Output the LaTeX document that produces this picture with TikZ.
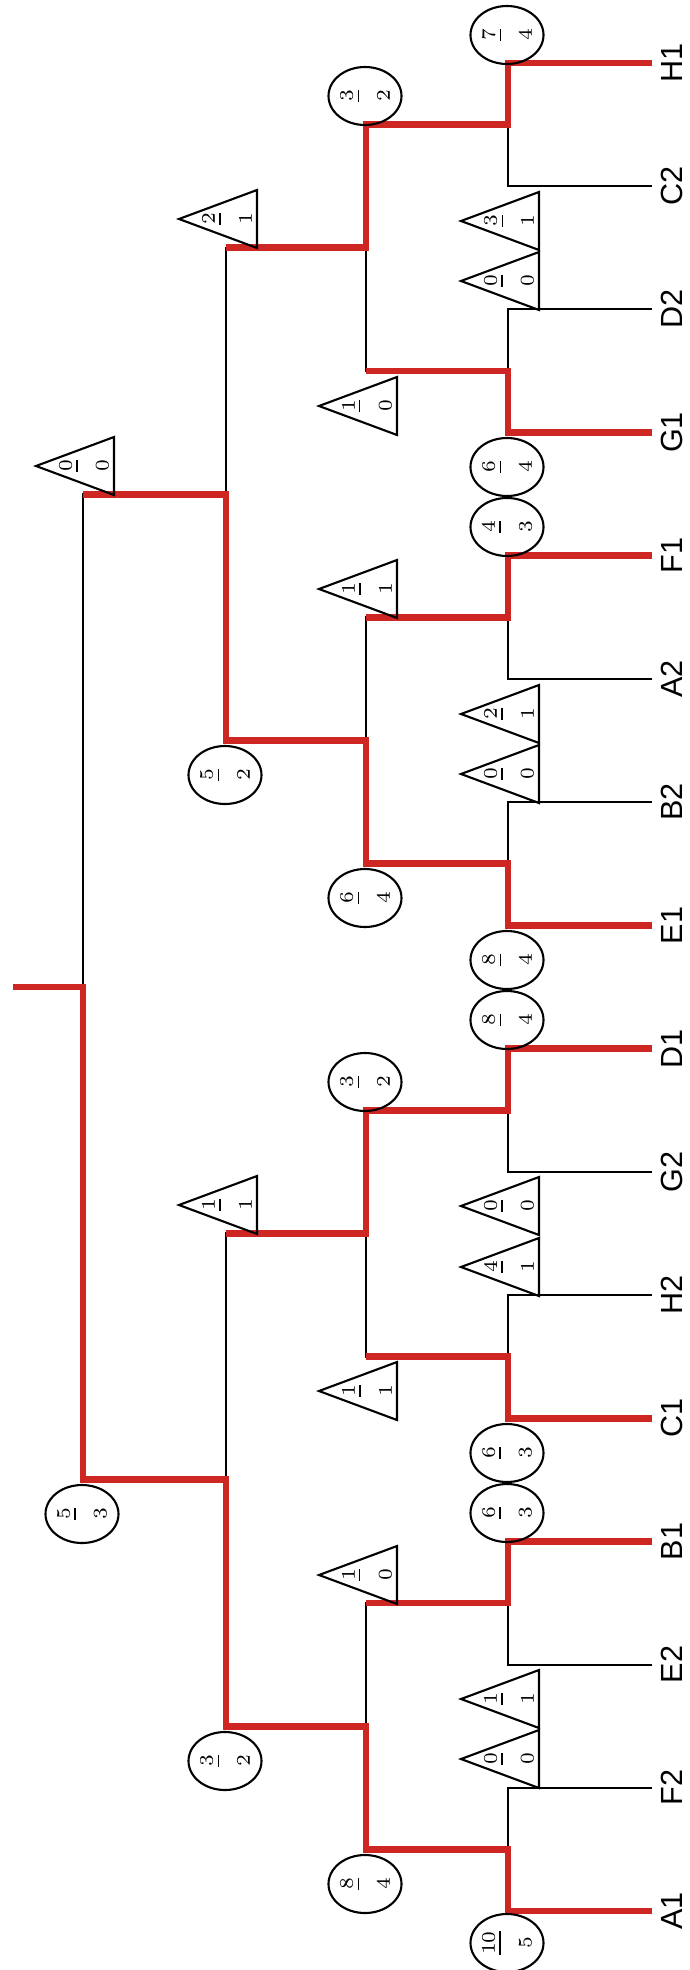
\documentclass[tikz,border=0pt]{standalone}
\usepackage{fontspec}
\newfontfamily\labelfont{Liberation Sans}
\usetikzlibrary{shapes.geometric}
\definecolor{winred}{RGB}{206,38,34}

\begin{document}
\begin{tikzpicture}[
    x=0.1mm, y=-0.1mm,
    bracket/.style={draw=black, line width=0.6pt},
    win/.style={draw=winred, line width=1.9pt},
    team/.style={rotate=90, font=\labelfont\fontsize{8.7}{10}\selectfont, inner sep=0.9mm, outer sep=0pt},
    won/.style={ellipse, draw, line width=0.6pt, rotate=90, minimum width=5.8mm, minimum height=7.3mm, inner sep=0pt, align=center, font=\fontsize{5.5}{10.5}\selectfont},
    lost/.style={rotate=90, inner sep=0pt, align=center, font=\fontsize{5.5}{10.5}\selectfont}
]
\useasboundingbox (0,0) rectangle (689,1970);

% Teams
\node[team] (A1) at (672,1911) {A1};
\node[team] (F2) at (672,1787.8) {F2};
\node[team] (E2) at (672,1664.6) {E2};
\node[team] (B1) at (672,1541.4) {B1};
\node[team] (C1) at (672,1418.2) {C1};
\node[team] (H2) at (672,1295) {H2};
\node[team] (G2) at (672,1171.8) {G2};
\node[team] (D1) at (672,1048.6) {D1};
\node[team] (E1) at (672,925.4) {E1};
\node[team] (B2) at (672,802.2) {B2};
\node[team] (A2) at (672,679) {A2};
\node[team] (F1) at (672,555.8) {F1};
\node[team] (G1) at (672,432.6) {G1};
\node[team] (D2) at (672,309.4) {D2};
\node[team] (C2) at (672,186.2) {C2};
\node[team] (H1) at (672,63) {H1};

% Match points
\coordinate (m10) at (508,1849.4);
\coordinate (m11) at (508,1603);
\coordinate (m12) at (508,1356.6);
\coordinate (m13) at (508,1110.2);
\coordinate (m14) at (508,863.8);
\coordinate (m15) at (508,617.4);
\coordinate (m16) at (508,371);
\coordinate (m17) at (508,124.6);
\coordinate (m20) at (366,1726.2);
\coordinate (m21) at (366,1233.4);
\coordinate (m22) at (366,740.6);
\coordinate (m23) at (366,247.8);
\coordinate (m30) at (226,1479.8);
\coordinate (m31) at (226,494.2);
\coordinate (m40) at (83,987);
\coordinate (champ) at (13,987);

% Bracket
\draw[bracket] (A1.north) -| (m10) |- (F2.north);
\draw[bracket] (E2.north) -| (m11) |- (B1.north);
\draw[bracket] (C1.north) -| (m12) |- (H2.north);
\draw[bracket] (G2.north) -| (m13) |- (D1.north);
\draw[bracket] (E1.north) -| (m14) |- (B2.north);
\draw[bracket] (A2.north) -| (m15) |- (F1.north);
\draw[bracket] (G1.north) -| (m16) |- (D2.north);
\draw[bracket] (C2.north) -| (m17) |- (H1.north);
\draw[bracket] (m10) -| (m20) |- (m11);
\draw[bracket] (m12) -| (m21) |- (m13);
\draw[bracket] (m14) -| (m22) |- (m15);
\draw[bracket] (m16) -| (m23) |- (m17);
\draw[bracket] (m20) -| (m30) |- (m21);
\draw[bracket] (m22) -| (m31) |- (m23);
\draw[bracket] (m30) -| (m40) |- (m31);

% Winners
\draw[win] (A1.north) -| (m10) -| (m20) -| (m30) -| (m40) -- (champ);
\draw[win] (B1.north) -| (m11) -- (m11 -| m20);
\draw[win] (C1.north) -| (m12) -- (m12 -| m21);
\draw[win] (D1.north) -| (m13) -| (m21) -- (m21 -| m30);
\draw[win] (E1.north) -| (m14) -| (m22) -| (m31) -- (m31 -| m40);
\draw[win] (F1.north) -| (m15) -- (m15 -| m22);
\draw[win] (G1.north) -| (m16) -- (m16 -| m23);
\draw[win] (H1.north) -| (m17) -| (m23) -- (m23 -| m31);

% Round 1 scores
\node[won] (sA1) at (507,1943) {\underline{10}\\5};
\draw[bracket] (539,1788) -- (539,1730) -- (461,1759) -- cycle;
\node[lost] (sF2) at (509,1759) {\underline{0}\\0};
\draw[bracket] (539,1670) -- (539,1728) -- (461,1699) -- cycle;
\node[lost] (sE2) at (509,1699) {\underline{1}\\1};
\node[won] (sB1) at (507,1513) {\underline{6}\\3};
\node[won] (sC1) at (507,1453) {\underline{6}\\3};
\draw[bracket] (539,1296) -- (539,1238) -- (461,1267) -- cycle;
\node[lost] (sH2) at (509,1267) {\underline{4}\\1};
\draw[bracket] (539,1177) -- (539,1235) -- (461,1206) -- cycle;
\node[lost] (sG2) at (509,1206) {\underline{0}\\0};
\node[won] (sD1) at (507,1020) {\underline{8}\\4};
\node[won] (sE1) at (507,960) {\underline{8}\\4};
\draw[bracket] (539,803) -- (539,745) -- (461,774) -- cycle;
\node[lost] (sB2) at (509,774) {\underline{0}\\0};
\draw[bracket] (539,685) -- (539,743) -- (461,714) -- cycle;
\node[lost] (sA2) at (509,714) {\underline{2}\\1};
\node[won] (sF1) at (507,527) {\underline{4}\\3};
\node[won] (sG1) at (507,467) {\underline{6}\\4};
\draw[bracket] (539,310) -- (539,252) -- (461,281) -- cycle;
\node[lost] (sD2) at (509,281) {\underline{0}\\0};
\draw[bracket] (539,192) -- (539,250) -- (461,221) -- cycle;
\node[lost] (sC2) at (509,221) {\underline{3}\\1};
\node[won] (sH1) at (507,35) {\underline{7}\\4};

% Round 2 scores
\node[won] (s10) at (365,1884) {\underline{8}\\4};
\draw[bracket] (397,1604) -- (397,1546) -- (319,1575) -- cycle;
\node[lost] (s11) at (367,1575) {\underline{1}\\0};
\draw[bracket] (397,1362) -- (397,1420) -- (319,1391) -- cycle;
\node[lost] (s12) at (367,1391) {\underline{1}\\1};
\node[won] (s13) at (365,1082) {\underline{3}\\2};
\node[won] (s14) at (365,898) {\underline{6}\\4};
\draw[bracket] (397,618) -- (397,560) -- (319,589) -- cycle;
\node[lost] (s15) at (367,589) {\underline{1}\\1};
\draw[bracket] (397,377) -- (397,435) -- (319,406) -- cycle;
\node[lost] (s16) at (367,406) {\underline{1}\\0};
\node[won] (s17) at (365,96) {\underline{3}\\2};

% Semi-final and final scores
\node[won] (s20) at (225,1761) {\underline{3}\\2};
\draw[bracket] (257,1234) -- (257,1176) -- (179,1205) -- cycle;
\node[lost] (s21) at (227,1205) {\underline{1}\\1};
\node[won] (s22) at (225,775) {\underline{5}\\2};
\draw[bracket] (257,248) -- (257,190) -- (179,219) -- cycle;
\node[lost] (s23) at (227,219) {\underline{2}\\1};
\node[won] (s30) at (82,1514) {\underline{5}\\3};
\draw[bracket] (114,495) -- (114,437) -- (36,466) -- cycle;
\node[lost] (s31) at (84,466) {\underline{0}\\0};

\end{tikzpicture}
\end{document}
